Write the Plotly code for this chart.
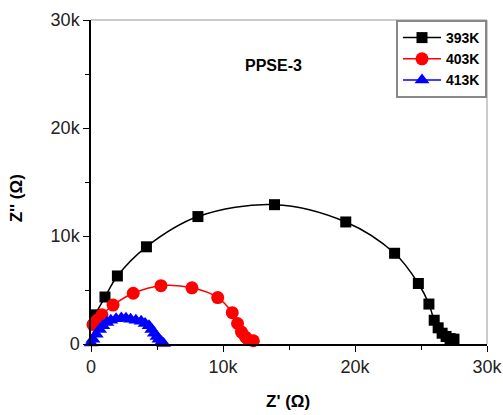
import plotly.graph_objects as go

# 393K
x393 = [300, 1060, 2000, 4200, 8100, 13900, 19300, 23000, 24800, 25600, 26000, 26300, 26600, 26900, 27200, 27500]
y393 = [2700, 4350, 6300, 9000, 11800, 12900, 11300, 8400, 5600, 3700, 2200, 1500, 1000, 700, 500, 450]
# 403K
x403 = [150, 450, 830, 1670, 3200, 5300, 7650, 9600, 10700, 11100, 11400, 11700, 11900, 12300]
y403 = [1800, 2200, 2700, 3600, 4700, 5400, 5200, 4300, 2900, 1900, 1100, 650, 400, 300]
# 413K
x413 = [0, 150, 400, 650, 900, 1200, 1500, 1900, 2300, 2650, 3000, 3400, 3800, 4100, 4400, 4600, 4800, 5000, 5150, 5350, 5500]
y413 = [100, 450, 900, 1350, 1700, 2000, 2200, 2330, 2400, 2380, 2300, 2200, 2100, 1900, 1700, 1350, 1000, 700, 450, 200, 50]

tickvals = [0, 10000, 20000, 30000]
ticktext = ["0", "10k", "20k", "30k"]

fig = go.Figure()
fig.add_trace(go.Scatter(x=x393, y=y393, name="<b>393K</b>", mode="lines+markers",
                         line=dict(color="black", width=1.5, shape="spline"),
                         marker=dict(symbol="square", size=11, color="black"), cliponaxis=False))
fig.add_trace(go.Scatter(x=x403, y=y403, name="<b>403K</b>", mode="lines+markers",
                         line=dict(color="red", width=1.5, shape="spline"),
                         marker=dict(symbol="circle", size=13, color="red"), cliponaxis=False))
fig.add_trace(go.Scatter(x=x413, y=y413, name="<b>413K</b>", mode="lines+markers",
                         line=dict(color="blue", width=1.5, shape="spline"),
                         marker=dict(symbol="triangle-up", size=13, color="blue"), cliponaxis=False))

axis_common = dict(
    range=[0, 30000], tickvals=tickvals, ticktext=ticktext, automargin=False,
    showgrid=False, zeroline=False, showline=True, linecolor="black", linewidth=1.5,
    ticks="outside", ticklen=6, tickwidth=1, tickcolor="black",
    minor=dict(dtick=5000, ticks="outside", ticklen=4, tickcolor="black", tickwidth=1),
    tickfont=dict(size=18, color="#222", family="Liberation Sans"),
)

fig.update_layout(
    width=503, height=415,
    margin=dict(l=91, r=16, t=20, b=71),
    paper_bgcolor="white", plot_bgcolor="white",
    font=dict(family="Liberation Sans", color="black"),
    xaxis=dict(**axis_common),
    yaxis=dict(**axis_common),
    legend=dict(x=1, y=1, xanchor="right", yanchor="top", bordercolor="#888", borderwidth=2,
                bgcolor="white", font=dict(size=14), tracegroupgap=0, itemwidth=38),
    showlegend=True,
    shapes=[
        dict(type="line", xref="paper", yref="paper", x0=0, x1=1, y0=1, y1=1, line=dict(color="#bbb", width=1.5)),
        dict(type="line", xref="paper", yref="paper", x0=1, x1=1, y0=0, y1=1, line=dict(color="#bbb", width=1.5)),
    ],
    annotations=[
        dict(x=13800, y=25800, text="<b>PPSE-3</b>", showarrow=False, font=dict(size=16)),
        dict(xref="paper", yref="paper", x=0.497, y=-0.176, text="<b>Z' (Ω)</b>", showarrow=False,
             font=dict(size=17), xanchor="center", yanchor="middle"),
        dict(xref="paper", yref="paper", x=-0.189, y=0.45, text="<b>Z'' (Ω)</b>", showarrow=False,
             font=dict(size=17), textangle=-90, xanchor="center", yanchor="middle"),
    ],
)

fig.write_html("out.html")
